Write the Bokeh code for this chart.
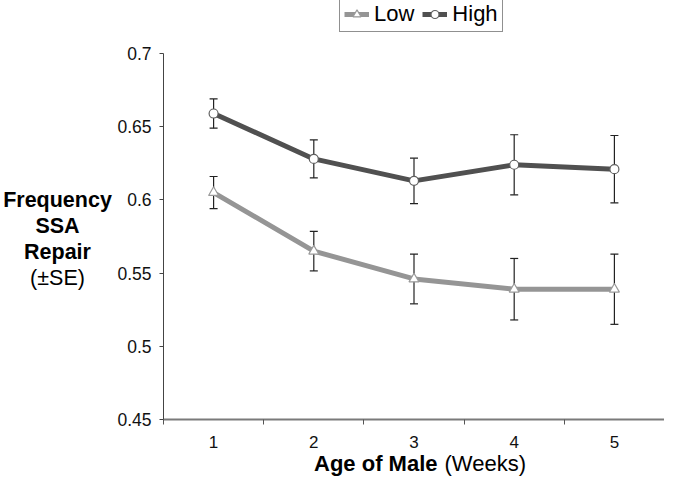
from bokeh.plotting import figure
from bokeh.models import (ColumnDataSource, Whisker, TeeHead, Legend, LegendItem,
                          FixedTicker, CustomJSTickFormatter, Label, Range1d)
from bokeh.embed import file_html
from bokeh.resources import INLINE

# ---- data ----
weeks = [1, 2, 3, 4, 5]
x_tick_labels = ["1", "2", "3", "4", "5"]
low = [0.605, 0.565, 0.546, 0.539, 0.539]
low_se = [0.011, 0.0135, 0.017, 0.021, 0.024]
high = [0.659, 0.628, 0.613, 0.624, 0.621]
high_se = [0.010, 0.013, 0.0155, 0.0205, 0.023]
y_ticks = [0.45, 0.5, 0.55, 0.6, 0.65, 0.7]

FONT = "Liberation Sans"

# ---- layout (pixels inside the figure) ----
W, H = 664, 477
AX_LEFT, AX_RIGHT = 163, 664      # x = 0.5 .. 5.5
AX_TOP, AX_BOTTOM = 53, 419       # y = 0.7 .. 0.45
X0, X1 = 0.5, 5.5
Y0, Y1 = 0.45, 0.7
xs = (AX_RIGHT - AX_LEFT) / (X1 - X0)
ys = (AX_BOTTOM - AX_TOP) / (Y1 - Y0)
x_range = Range1d(X0 - AX_LEFT / xs, X1 + (W - AX_RIGHT) / xs)
y_range = Range1d(Y0 - (H - AX_BOTTOM) / ys, Y1 + AX_TOP / ys)

low_src = ColumnDataSource(dict(x=weeks, y=low,
                                lo=[v - e for v, e in zip(low, low_se)],
                                hi=[v + e for v, e in zip(low, low_se)]))
high_src = ColumnDataSource(dict(x=weeks, y=high,
                                 lo=[v - e for v, e in zip(high, high_se)],
                                 hi=[v + e for v, e in zip(high, high_se)]))

p = figure(width=W, height=H, output_backend="svg", toolbar_location=None,
           x_range=x_range, y_range=y_range,
           min_border_left=0, min_border_right=0, min_border_top=0,
           min_border_bottom=0)
p.title.visible = False
p.outline_line_color = None
p.xgrid.visible = False
p.ygrid.visible = False
p.background_fill_color = "white"
p.border_fill_color = "white"

# lines
low_line = p.line("x", "y", source=low_src, line_color="#959595", line_width=5)
high_line = p.line("x", "y", source=high_src, line_color="#505050", line_width=5)

# error bars
for src in (low_src, high_src):
    w = Whisker(source=src, base="x", lower="lo", upper="hi",
                line_color="#222222", line_width=1.2,
                upper_head=TeeHead(size=8, line_color="#222222", line_width=1.2),
                lower_head=TeeHead(size=8, line_color="#222222", line_width=1.2))
    p.add_layout(w)

low_mk = p.scatter("x", "y", source=low_src, marker="triangle", size=10,
                   fill_color="white", line_color="#9a9a9a", line_width=1.2)
high_mk = p.scatter("x", "y", source=high_src, marker="circle", size=9,
                    fill_color="white", line_color="#606060", line_width=1.2)

# axes (drawn at fixed data locations)
xa = p.xaxis[0]
xa.fixed_location = Y0
xa.bounds = (X0, X1)
xa.ticker = FixedTicker(ticks=weeks, minor_ticks=[0.5, 1.5, 2.5, 3.5, 4.5, 5.5])
xa.major_label_overrides = {w: l for w, l in zip(weeks, x_tick_labels)}
xa.axis_line_color = "#7a7a7a"
xa.axis_line_width = 2
xa.major_tick_line_color = None
xa.major_tick_out = 5
xa.major_tick_in = 0
xa.minor_tick_line_color = "#555555"
xa.minor_tick_out = 5
xa.minor_tick_in = 0
xa.major_label_standoff = 11
xa.major_label_text_font = FONT
xa.major_label_text_font_size = "17px"
xa.major_label_text_color = "#111111"

ya = p.yaxis[0]
ya.fixed_location = X0
ya.bounds = (Y0, Y1)
ya.ticker = FixedTicker(ticks=y_ticks, minor_ticks=[])
ya.formatter = CustomJSTickFormatter(code="return tick.toFixed(2).replace(/0$/, '');")
ya.axis_line_color = "#444444"
ya.axis_line_width = 1
ya.major_tick_line_color = "#444444"
ya.major_tick_out = 4
ya.major_tick_in = 0
ya.minor_tick_line_color = None
ya.major_label_standoff = 8
ya.major_label_text_font = FONT
ya.major_label_text_font_size = "17.5px"
ya.major_label_text_color = "#111111"

# y-axis title (multi-line, mixed weight); vertical centres in px from top
ytitle = [("Frequency", "bold", 199), ("SSA", "bold", 225),
          ("Repair", "bold", 251), ("(\u00b1SE)", "normal", 277)]
for txt, style, mid in ytitle:
    p.add_layout(Label(x=57, y=H - mid, x_units="screen", y_units="screen",
                       text=txt, text_font=FONT, text_font_style=style,
                       text_font_size="21.5px", text_align="center",
                       text_baseline="middle", text_color="#000000"))

# x-axis title
XT_MID = 463
p.add_layout(Label(x=437, y=H - XT_MID, x_units="screen", y_units="screen",
                   text="Age of Male", text_font=FONT, text_font_style="bold",
                   text_font_size="22px", text_align="right",
                   text_baseline="middle", text_color="#000000"))
p.add_layout(Label(x=444, y=H - XT_MID, x_units="screen", y_units="screen",
                   text="(Weeks)", text_font=FONT, text_font_style="normal",
                   text_font_size="22px", text_align="left",
                   text_baseline="middle", text_color="#000000"))

legend = Legend(items=[LegendItem(label="Low", renderers=[low_line, low_mk]),
                       LegendItem(label="High", renderers=[high_line, high_mk])],
                orientation="horizontal", location=(339, H - 32),
                label_text_font=FONT, label_text_font_size="22px",
                label_text_color="#000000",
                glyph_width=25, glyph_height=20, label_standoff=5,
                spacing=8, padding=4, margin=0,
                border_line_color="#222222", border_line_width=1,
                background_fill_color="white", background_fill_alpha=1.0)
p.add_layout(legend)

open("out.html", "w").write(file_html(p, INLINE))
